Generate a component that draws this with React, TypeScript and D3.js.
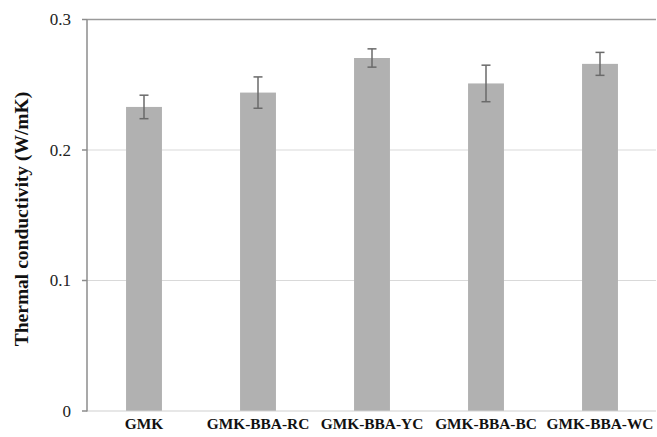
import React, { useEffect, useRef } from 'react';
import * as d3 from 'd3';

// data
const categories = ['GMK', 'GMK-BBA-RC', 'GMK-BBA-YC', 'GMK-BBA-BC', 'GMK-BBA-WC'];
const values = [0.233, 0.244, 0.2705, 0.251, 0.266];
const errors = [0.009, 0.012, 0.007, 0.014, 0.0088];
const yTicks = [0, 0.1, 0.2, 0.3];

const W = 657;
const H = 437;

const App = () => {
  const svgRef = useRef<SVGSVGElement>(null);

  useEffect(() => {
    const svg = d3.select(svgRef.current);
    svg.selectAll('*').remove();

    const left = 87, right = 657, top = 19.5, bottom = 411;

    const x = d3.scaleBand().domain(categories).range([left, right]).paddingInner(0.685).paddingOuter(0.3425);
    const y = d3.scaleLinear().domain([0, 0.3]).range([bottom, top]);

    // grid lines
    svg.append('g')
      .selectAll('line')
      .data(yTicks.filter(t => t > 0))
      .enter()
      .append('line')
      .attr('x1', left)
      .attr('x2', right - 1)
      .attr('y1', d => y(d))
      .attr('y2', d => y(d))
      .attr('stroke', d => (d === 0.3 ? '#9a9a9a' : '#d9d9d9'))
      .attr('stroke-width', d => (d === 0.3 ? 1.5 : 1.2));

    // bars
    svg.append('g')
      .selectAll('rect')
      .data(values)
      .enter()
      .append('rect')
      .attr('x', (d, i) => x(categories[i])!)
      .attr('width', x.bandwidth())
      .attr('y', d => y(d))
      .attr('height', d => bottom - y(d))
      .attr('fill', '#b1b1b1');

    // error bars
    const eb = svg.append('g').attr('stroke', '#6a6a6a').attr('stroke-width', 1.5);
    values.forEach((v, i) => {
      const cx = x(categories[i])! + x.bandwidth() / 2;
      const y1 = y(v + errors[i]);
      const y2 = y(v - errors[i]);
      eb.append('line').attr('x1', cx).attr('x2', cx).attr('y1', y1).attr('y2', y2);
      eb.append('line').attr('x1', cx - 4.5).attr('x2', cx + 4.5).attr('y1', y1).attr('y2', y1);
      eb.append('line').attr('x1', cx - 4.5).attr('x2', cx + 4.5).attr('y1', y2).attr('y2', y2);
    });

    // x axis baseline
    svg.append('line')
      .attr('x1', left).attr('x2', right - 1)
      .attr('y1', bottom).attr('y2', bottom)
      .attr('stroke', '#d0d0d0').attr('stroke-width', 1.2);

    // y axis
    svg.append('line')
      .attr('x1', left).attr('x2', left)
      .attr('y1', top).attr('y2', bottom + 0.5)
      .attr('stroke', '#8c8c8c').attr('stroke-width', 1.5);

    const yt = svg.append('g');
    yTicks.forEach(t => {
      yt.append('line')
        .attr('x1', left - 5).attr('x2', left)
        .attr('y1', y(t)).attr('y2', y(t))
        .attr('stroke', '#8c8c8c').attr('stroke-width', 1.5);
      yt.append('text')
        .attr('x', 71)
        .attr('y', y(t))
        .attr('dy', '0.35em')
        .attr('text-anchor', 'end')
        .attr('font-family', '"Liberation Serif", serif')
        .attr('font-size', 17)
        .attr('fill', '#222')
        .text(t === 0 ? '0' : String(t));
    });

    // category labels
    svg.append('g')
      .selectAll('text')
      .data(categories)
      .enter()
      .append('text')
      .attr('x', d => x(d)! + x.bandwidth() / 2)
      .attr('y', 429)
      .attr('text-anchor', 'middle')
      .attr('font-family', '"Liberation Serif", serif')
      .attr('font-weight', 'bold')
      .attr('font-size', 15.4)
      .attr('fill', '#111')
      .text(d => d);

    // y label
    svg.append('text')
      .attr('transform', `translate(27.5, ${(88 + 350) / 2}) rotate(-90)`)
      .attr('text-anchor', 'middle')
      .attr('font-family', '"Liberation Serif", serif')
      .attr('font-weight', 'bold')
      .attr('font-size', 19.5)
      .attr('fill', '#111')
      .text('Thermal conductivity (W/mK)');
  }, []);

  return (
    <div style={{ position: 'absolute', left: 0, top: 0 }}>
      <svg ref={svgRef} width={W} height={H} style={{ display: 'block', background: '#fff' }}></svg>
    </div>
  );
};

export default App;
